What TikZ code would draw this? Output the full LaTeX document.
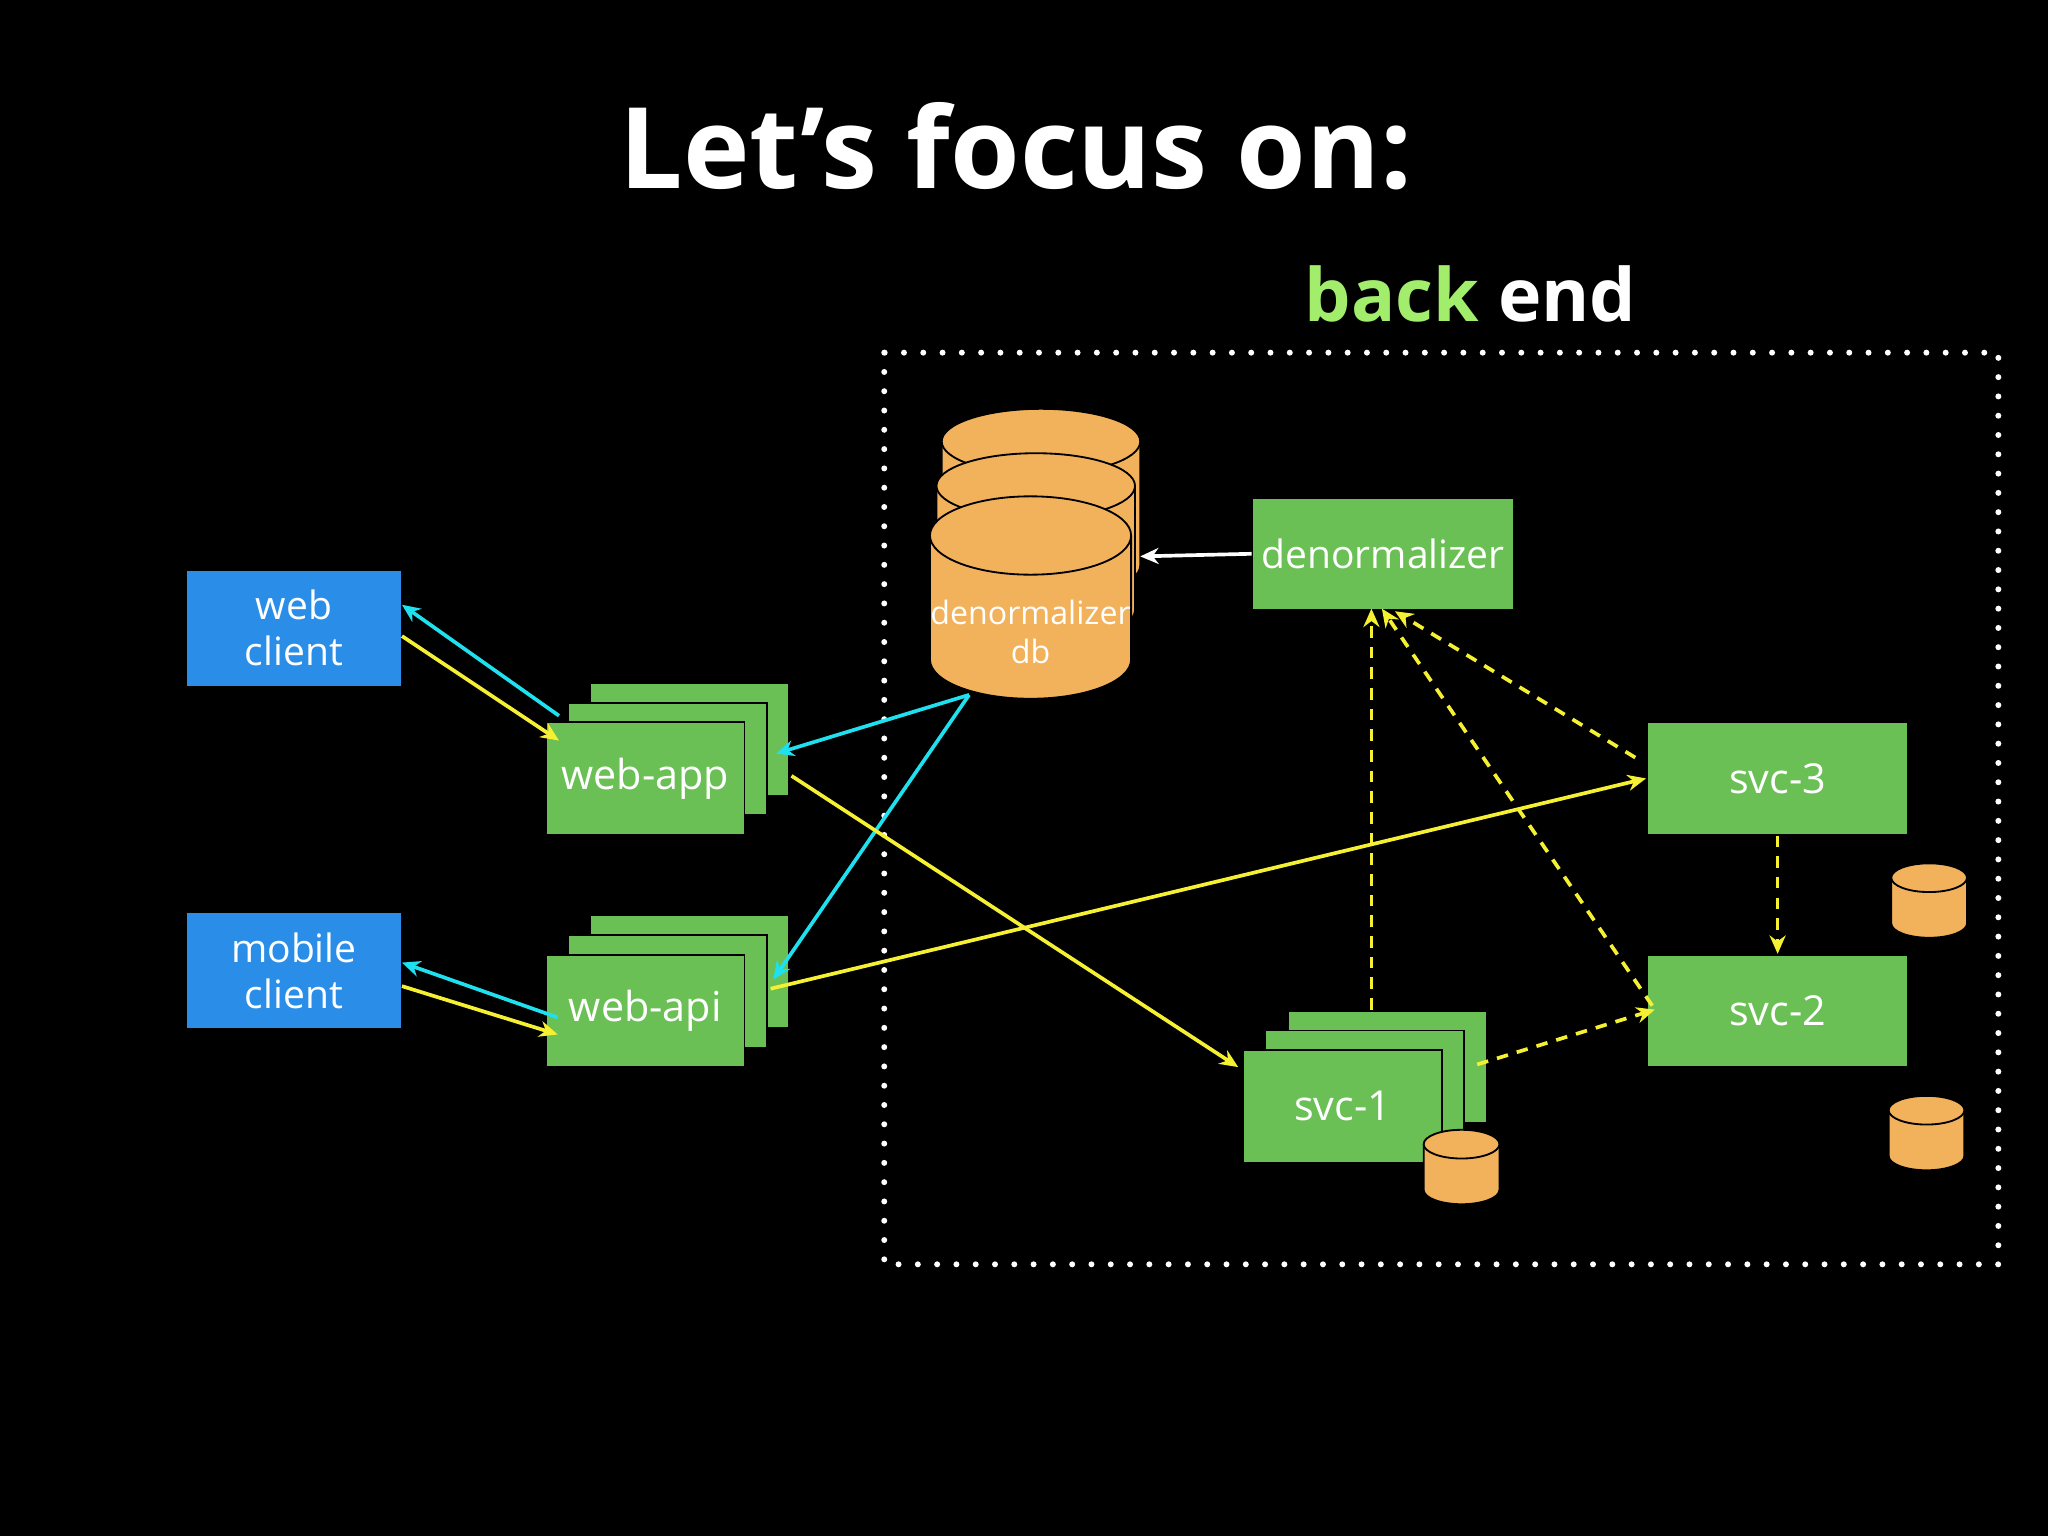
\documentclass[tikz,border=0pt]{standalone}
\usepackage{fontspec}
\setmainfont{Open Sans}
\usetikzlibrary{arrows.meta}
% cylinder: centre x, top y, half width, depth of cap, body height
\newcommand{\dbcyl}[5]{%
 \fill[orangeLAT] (#1-#3,#2) rectangle (#1+#3,#2+#5);
 \filldraw[fill=orangeLAT,draw=black,line width=0.4pt] (#1-#3,#2) -- (#1-#3,#2+#5) arc[start angle=180,end angle=0,x radius=#3,y radius=#4] -- (#1+#3,#2);
 \filldraw[fill=orangeLAT,draw=black,line width=0.4pt] (#1,#2) ellipse[x radius=#3,y radius=#4];
}
\begin{document}
\begin{tikzpicture}[x=0.01cm,y=-0.01cm,
 box/.style={draw=black,line width=0.4pt,fill=greenLAT,text=white,minimum width=1.52cm,minimum height=0.86cm,inner sep=0pt,font=\fontsize{9}{11}\selectfont},
 client/.style={fill=blueLAT,text=white,minimum width=1.64cm,minimum height=0.88cm,inner sep=0pt,align=center,font=\fontsize{8.5}{10}\selectfont},
 ylw/.style={yellowLAT,line width=0.8pt,-{Stealth[length=4pt,width=3.5pt]}},
 cyn/.style={cyanLAT,line width=0.8pt,-{Stealth[length=4pt,width=3.5pt]}},
 dsh/.style={ylw,dash pattern=on 2.5pt off 2pt}]

\definecolor{greenLAT}{HTML}{6abf55}
\definecolor{blueLAT}{HTML}{2a8ee8}
\definecolor{orangeLAT}{HTML}{f2b25c}
\definecolor{yellowLAT}{HTML}{f5f032}
\definecolor{cyanLAT}{HTML}{1ee0ee}
\definecolor{lightgreenLAT}{HTML}{a2ee6c}

\fill[black] (0,0) rectangle (1568,1176);
\useasboundingbox (0,0) rectangle (1568,1176);

\node[white,font=\fontsize{24.5}{28}\selectfont\bfseries] (title) at (778,112) {Let’s focus on:};
\node[font=\fontsize{16}{20}\selectfont\bfseries] (backend) at (1126,225) {\textcolor{lightgreenLAT}{back} \textcolor{white}{end}};

\draw[white,line width=1.3pt,dash pattern=on 0pt off 4.2pt,line cap=round] (677,270) rectangle (1530,968);

% clients
\node[client] (webclient) at (225,481) {web\\client};
\node[client] (mobileclient) at (225,743) {mobile\\client};

% stacked boxes
\foreach \n/\x/\y in {webapp/494/596, webapi/494/774, svcone/1028/847} {
 \node[box] (\n3) at (\x+34,\y-30) {};
 \node[box] (\n2) at (\x+17,\y-15) {};
}
\node[box] (webapp) at (494,596) {web-app};
\node[box] (webapi) at (494,774) {web-api};
\node[box] (svcone) at (1028,847) {svc-1};
\node[box,minimum width=2cm,font=\fontsize{8.5}{10}\selectfont] (denorm) at (1059,424) {denormalizer};
\node[box,minimum width=2cm] (svcthree) at (1361,596) {svc-3};
\node[box,minimum width=2cm] (svctwo) at (1361,774) {svc-2};

% databases
\dbcyl{797}{338}{76}{25}{95}
\dbcyl{793}{372}{76}{25}{95}
\dbcyl{789}{410}{77}{30}{95}
\node[white,align=center,font=\fontsize{7}{8.5}\selectfont] (dblabel) at (789,484) {denormalizer\\db};
\coordinate (db) at (742,532);
\dbcyl{1119}{876}{29}{11}{35}
\dbcyl{1477}{672}{29}{11}{35}
\dbcyl{1475}{850}{29}{11}{35}

% connectors
\coordinate (wa1) at (428,548); \coordinate (wa2) at (428,567);
\draw[cyn] (wa1) -- (webclient.east |- 0,463);
\draw[ylw] (webclient.east |- 0,487) -- (wa2);
\coordinate (wi1) at (427,779); \coordinate (wi2) at (427,792);
\draw[cyn] (wi1) -- (mobileclient.east |- 0,737);
\draw[ylw] (mobileclient.east |- 0,755) -- (wi2);
\draw[white,line width=0.8pt,-{Stealth[length=4pt,width=3.5pt]}] (denorm.west) -- (873,426);
\draw[cyn] (db) -- (594,577);
\draw[cyn] (db) -- (592,750);
\draw[ylw] (606,594) -- (948,817);
\draw[ylw] (590,757) -- (svcthree.west);
\draw[dsh] (1050,773) -- (1050,466);
\draw[dsh] (1265,770) -- (1058,466);
\draw[dsh] (1252,580) -- (1068,468);
\draw[dsh] (svcthree.south) -- (svctwo.north);
\draw[dsh] (1131,815) -- (1267,773);
\end{tikzpicture}
\end{document}
